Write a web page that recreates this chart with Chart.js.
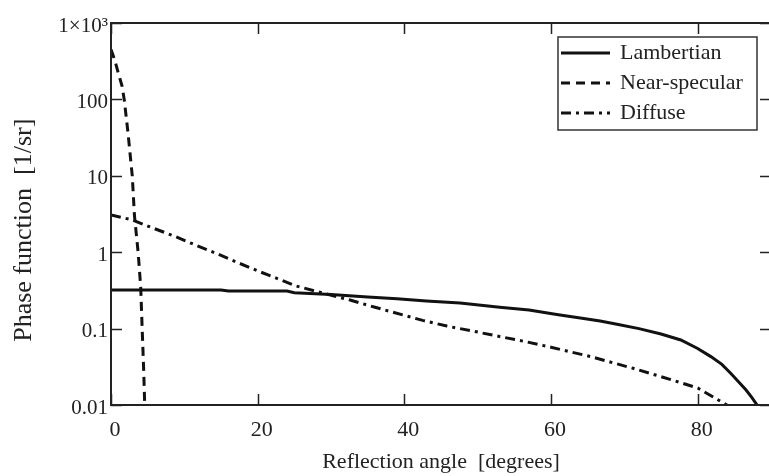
<!DOCTYPE html>
<html>
<head>
<meta charset="utf-8">
<script src="https://cdn.jsdelivr.net/npm/chart.js@4.4.1/dist/chart.umd.min.js"></script>
<style>
  html, body { margin: 0; padding: 0; background: #fff; overflow: hidden; }
  #wrap { width: 780px; height: 476px; }
</style>
</head>
<body>
<div id="wrap"><canvas id="phaseChart" width="780" height="476"></canvas></div>
<script>
// values
const lambAngle = [0, 5, 10, 15, 16, 24, 25, 30, 35, 39, 43, 47.6, 53, 57, 61, 64, 66.7, 69, 72, 75, 77.7, 80, 81.8, 83.3, 84.5, 85.6, 86.6, 87.4, 88.1];
const lambValue = [0.32, 0.32, 0.32, 0.32, 0.31, 0.31, 0.295, 0.28, 0.26, 0.245, 0.23, 0.216, 0.19, 0.175, 0.152, 0.138, 0.126, 0.114, 0.1, 0.085, 0.071, 0.055, 0.043, 0.034, 0.026, 0.02, 0.0157, 0.0125, 0.01];

const specAngle = [0, 0.5, 1.0, 1.5, 1.8, 2.3, 2.9, 3.2, 3.7, 4.05, 4.25, 4.45, 4.6];
const specValue = [450, 330, 220, 150, 100, 38, 10, 3, 1, 0.35, 0.1, 0.03, 0.01];

const diffAngle = [0, 2.9, 5, 8.8, 11, 14.3, 17, 20.2, 23, 25.3, 29, 32.6, 36, 39.8, 42.5, 45.8, 50, 53.5, 56.7, 60, 65.4, 71.3, 76.7, 80, 82.7, 84];
const diffValue = [3.07, 2.65, 2.2, 1.6, 1.3, 0.97, 0.75, 0.56, 0.44, 0.36, 0.29, 0.237, 0.19, 0.151, 0.128, 0.108, 0.09, 0.077, 0.067, 0.057, 0.043, 0.03, 0.021, 0.0167, 0.0118, 0.01];

const seriesNames = ["Lambertian", "Near-specular", "Diffuse"];
const xTicks = [0, 20, 40, 60, 80];
const yTicks = [0.01, 0.1, 1, 10, 100, 1000];

const ink = "#111";
const serif = "'Liberation Serif', 'Times New Roman', serif";

function toPoints(xs, ys) {
  return xs.map((x, i) => ({ x: x, y: ys[i] }));
}

// box with inward ticks on all four sides
const frameTicks = {
  id: "frameTicks",
  afterDraw(chart) {
    const ctx = chart.ctx;
    const a = chart.chartArea;
    const xs = chart.scales.x;
    const ys = chart.scales.y;
    const len = 11;
    ctx.save();
    ctx.strokeStyle = "#222";
    ctx.lineWidth = 1.5;
    ctx.beginPath();
    xTicks.forEach((v) => {
      const px = Math.round(xs.getPixelForValue(v)) + 0.5;
      ctx.moveTo(px, a.bottom); ctx.lineTo(px, a.bottom - len);
      ctx.moveTo(px, a.top); ctx.lineTo(px, a.top + len);
    });
    yTicks.forEach((v) => {
      const py = Math.round(ys.getPixelForValue(v)) + 0.5;
      ctx.moveTo(a.left, py); ctx.lineTo(a.left + len, py);
      ctx.moveTo(a.right, py); ctx.lineTo(a.right - len, py);
    });
    ctx.stroke();
    ctx.lineWidth = 2;
    ctx.strokeRect(a.left, a.top, a.right - a.left, a.bottom - a.top);
    ctx.restore();
  }
};

// legend box inside the plot, top right
const boxLegend = {
  id: "boxLegend",
  afterDraw(chart) {
    const ctx = chart.ctx;
    const left = 558, top = 37, w = 199, h = 93;
    ctx.save();
    ctx.fillStyle = "#fff";
    ctx.fillRect(left, top, w, h);
    ctx.strokeStyle = "#333";
    ctx.lineWidth = 1.5;
    ctx.strokeRect(left, top, w, h);
    chart.data.datasets.forEach((ds, i) => {
      const y = top + 16 + i * 30;
      ctx.strokeStyle = ds.borderColor;
      ctx.lineWidth = ds.borderWidth;
      ctx.setLineDash(ds.borderDash || []);
      ctx.beginPath();
      ctx.moveTo(left + 3, y);
      ctx.lineTo(left + 52, y);
      ctx.stroke();
      ctx.setLineDash([]);
      ctx.fillStyle = "#222";
      ctx.font = "22px " + serif;
      ctx.textBaseline = "middle";
      ctx.fillText(ds.label, left + 62, y);
    });
    ctx.restore();
  }
};

new Chart(document.getElementById("phaseChart"), {
  type: "line",
  data: {
    datasets: [
      {
        label: seriesNames[0],
        data: toPoints(lambAngle, lambValue),
        borderColor: ink,
        borderWidth: 3,
        pointRadius: 0,
      },
      {
        label: seriesNames[1],
        data: toPoints(specAngle, specValue),
        borderColor: ink,
        borderWidth: 3,
        borderDash: [9, 6],
        pointRadius: 0,
      },
      {
        label: seriesNames[2],
        data: toPoints(diffAngle, diffValue),
        borderColor: ink,
        borderWidth: 3,
        borderDash: [10, 5, 3, 5],
        pointRadius: 0,
      },
    ],
  },
  options: {
    responsive: false,
    animation: false,
    devicePixelRatio: 1,
    layout: { padding: { left: 0, right: 9, top: 23, bottom: 0 } },
    plugins: {
      legend: { display: false },
      tooltip: { enabled: false },
    },
    scales: {
      x: {
        type: "linear",
        min: 0,
        max: 90,
        grid: { display: false, drawTicks: false },
        border: { display: false },
        afterBuildTicks: (scale) => { scale.ticks = xTicks.map((v) => ({ value: v })); },
        afterFit: (scale) => { scale.height = 71; },
        ticks: {
          color: "#222",
          font: { family: serif, size: 22 },
          padding: 12,
          labelOffset: 4,
          maxRotation: 0,
        },
        title: {
          display: true,
          text: "Reflection angle  [degrees]",
          color: "#222",
          font: { family: serif, size: 22 },
          padding: { top: 0, bottom: 1 },
        },
      },
      y: {
        type: "logarithmic",
        min: 0.01,
        max: 1000,
        grid: { display: false, drawTicks: false },
        border: { display: false },
        afterBuildTicks: (scale) => { scale.ticks = yTicks.map((v) => ({ value: v })); },
        afterFit: (scale) => { scale.width = 111; },
        ticks: {
          color: "#222",
          font: { family: serif, size: 21 },
          padding: 3,
          labelOffset: 3,
          callback: (v) => (v === 1000 ? "1×10³" : String(v)),
        },
        title: {
          display: true,
          // trailing spaces push the visible text a little lower, as in the reference
          text: "Phase function  [1/sr]     ",
          color: "#222",
          font: { family: serif, size: 26 },
          padding: { top: 9, bottom: 0 },
        },
      },
    },
  },
  plugins: [frameTicks, boxLegend],
});
</script>
</body>
</html>
